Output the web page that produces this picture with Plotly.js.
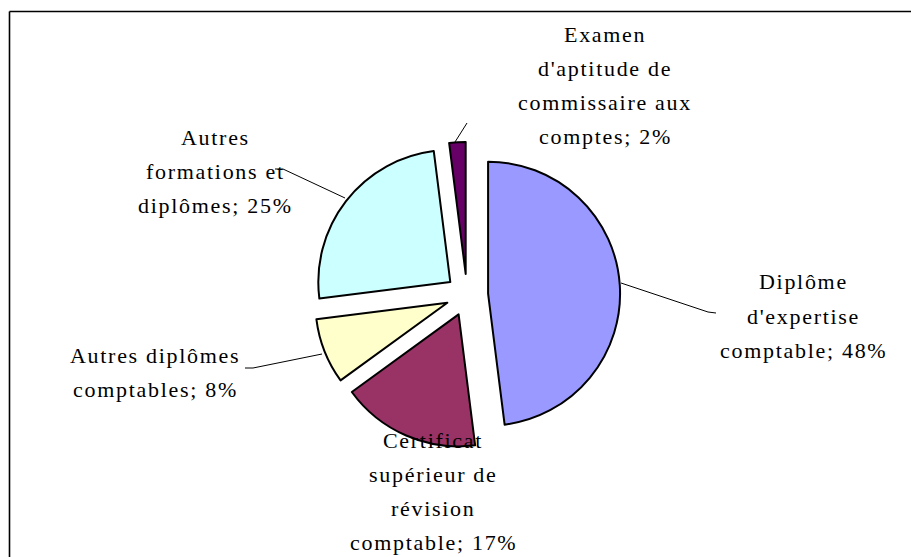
<!DOCTYPE html>
<html>
<head>
<meta charset="utf-8">
<script src="https://cdn.plot.ly/plotly-3.0.1.min.js"></script>
<style>
  html, body { margin: 0; padding: 0; background: #fff; }
  #chart { width: 911px; height: 557px; }
  .annotation-text { letter-spacing: 1.7px; }
</style>
</head>
<body>
<div id="chart"></div>
<script>
// ---- data ----
const categories = [
  "Diplôme d'expertise comptable",
  "Certificat supérieur de révision comptable",
  "Autres diplômes comptables",
  "Autres formations et diplômes",
  "Examen d'aptitude de commissaire aux comptes"
];
const values = [48, 17, 8, 25, 2];
const labelLines = [
  ["Diplôme", "d'expertise", "comptable"],
  ["Certificat", "supérieur de", "révision", "comptable"],
  ["Autres diplômes", "comptables"],
  ["Autres", "formations et", "diplômes"],
  ["Examen", "d'aptitude de", "commissaire aux", "comptes"]
];
const colors = ["#9999FF", "#993366", "#FFFFCC", "#CCFFFF", "#660066"];

// ---- layout helpers (pixel positions, style only) ----
const W = 911, H = 557;
const px = x => x / W;
const py = y => 1 - y / H;
const labelPos = [[803, 282], [433, 440], [155, 355], [215, 137], [605, 34]];
const lineGap = 34.3;
const leaders = [
  [[621, 283], [708, 312], [716, 313]],
  null,
  [[322, 354], [253, 368], [245, 368]],
  [[345, 198], [283, 169], [275, 169]],
  [[455, 142], [467, 123]]
];

const cx = 467, cy = 295, r = 132, pull = 0.16;
const ext = r * (1 + pull);

const FONT = "Liberation Serif";

const annotations = [];
labelLines.forEach((lines, i) => {
  const all = lines.slice();
  all[all.length - 1] = all[all.length - 1] + "; " + values[i] + "%";
  all.forEach((t, k) => {
    annotations.push({
      xref: 'paper', yref: 'paper',
      x: px(labelPos[i][0]), y: py(labelPos[i][1] + k * lineGap),
      xanchor: 'center', yanchor: 'middle',
      text: t, showarrow: false,
      font: { family: FONT, size: 22, color: '#000' }
    });
  });
});

const shapes = [
  { type: 'line', xref: 'paper', yref: 'paper', x0: px(9.5), y0: py(11.5), x1: 1, y1: py(11.5),
    line: { color: '#000', width: 1.6 } },
  { type: 'line', xref: 'paper', yref: 'paper', x0: px(9.5), y0: py(11.5), x1: px(9.5), y1: 0,
    line: { color: '#000', width: 1.6 } }
];
leaders.forEach(pts => {
  if (!pts) return;
  const d = pts.map((p, k) => (k ? 'L' : 'M') + px(p[0]) + ',' + py(p[1])).join(' ');
  shapes.push({ type: 'path', xref: 'paper', yref: 'paper', path: d,
    line: { color: '#000', width: 1 } });
});

const trace = {
  type: 'pie',
  labels: categories,
  values: values,
  sort: false,
  direction: 'clockwise',
  rotation: 0,
  pull: values.map(() => pull),
  textinfo: 'none',
  hoverinfo: 'label+percent',
  marker: { colors: colors, line: { color: '#000', width: 2 } },
  domain: { x: [px(cx - ext), px(cx + ext)], y: [py(cy + ext), py(cy - ext)] }
};

const layout = {
  width: W, height: H,
  margin: { l: 0, r: 0, t: 0, b: 0 },
  paper_bgcolor: '#fff',
  font: { family: FONT },
  showlegend: false,
  annotations: annotations,
  shapes: shapes
};

Plotly.newPlot('chart', [trace], layout, { displayModeBar: false, staticPlot: true });
</script>
</body>
</html>
